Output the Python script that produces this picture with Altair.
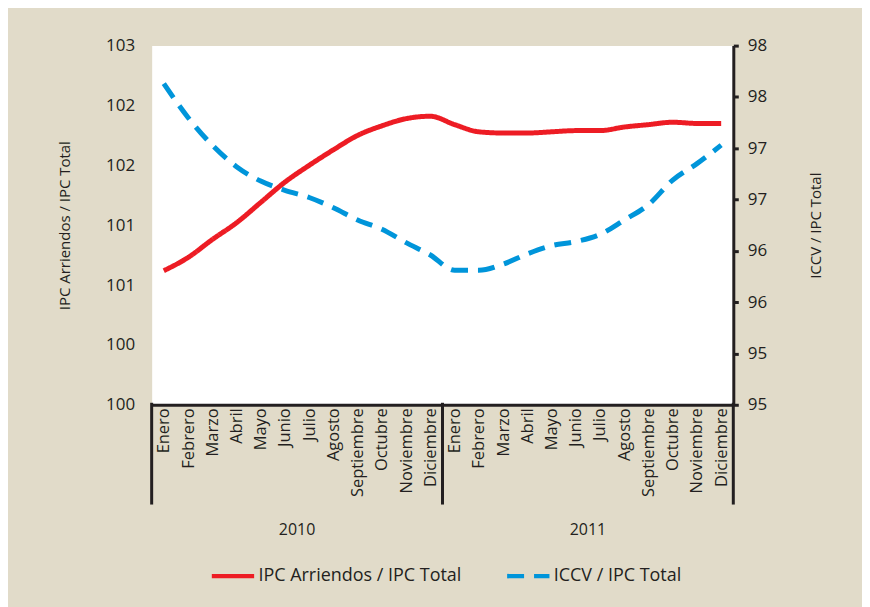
import altair as alt
import pandas as pd

meses = ["Enero", "Febrero", "Marzo", "Abril", "Mayo", "Junio", "Julio", "Agosto",
         "Septiembre", "Octubre", "Noviembre", "Diciembre"]
categorias = meses + meses
anios = ["2010", "2011"]

ipc_arriendos = [100.87, 100.98, 101.13, 101.27, 101.44, 101.61, 101.75, 101.88,
                 102.00, 102.08, 102.14, 102.16, 102.09, 102.03, 102.02, 102.02,
                 102.03, 102.04, 102.04, 102.07, 102.09, 102.11, 102.10, 102.10]
iccv = [97.88, 97.55, 97.28, 97.07, 96.93, 96.84, 96.77, 96.67, 96.55, 96.46, 96.33, 96.21,
        96.06, 96.06, 96.12, 96.22, 96.30, 96.34, 96.41, 96.55, 96.70, 96.94, 97.10, 97.28]

s1 = "IPC Arriendos / IPC Total"
s2 = "ICCV / IPC Total"

df1 = pd.DataFrame({"idx": list(range(24)), "mes": categorias, "v": ipc_arriendos, "serie": s1})
df2 = pd.DataFrame({"idx": list(range(24)), "mes": categorias, "v": iccv, "serie": s2})
sep = pd.DataFrame({"x": [-0.5, 11.5, 23.5]})
yrs = pd.DataFrame({"x": [5.5, 17.5], "t": anios})

FONT = "Open Sans"
TXT = "#231F20"

label_arr = "[" + ",".join("'%s'" % m for m in categorias) + "]"
xscale = alt.Scale(domain=[-0.5, 23.5], nice=False, zero=False)
xaxis = alt.Axis(values=list(range(24)), labelExpr=label_arr + "[datum.value]",
                 labelAngle=270, labelFontSize=16.5, labelFont=FONT, labelColor=TXT,
                 labelOverlap=False, labelBound=False, labelFlush=False,
                 labelPadding=3, tickSize=0, grid=False, domainColor="#231F20",
                 domainWidth=3, title=None)

color = alt.Color("serie:N", scale=alt.Scale(domain=[s1, s2], range=["#ED1C24", "#0095DA"]),
                  legend=alt.Legend(title=None, orient="none", legendX=58, legendY=508,
                                    direction="horizontal", symbolType="stroke",
                                    symbolStrokeWidth=4.5, symbolSize=1800,
                                    labelFontSize=18, labelFont=FONT, labelColor=TXT,
                                    labelLimit=400, columnPadding=36, labelOffset=2))
dash = alt.StrokeDash("serie:N", scale=alt.Scale(domain=[s1, s2], range=[[1, 0], [17, 10]]),
                      legend=None)

left_vals = [99.75 + 0.5 * i for i in range(7)]
right_vals = [94.75 + 0.5 * i for i in range(8)]

line1 = alt.Chart(df1).mark_line(strokeWidth=5, interpolate="monotone").encode(
    x=alt.X("idx:Q", scale=xscale, axis=xaxis),
    y=alt.Y("v:Q", scale=alt.Scale(domain=[99.75, 102.75], nice=False, zero=False),
            axis=alt.Axis(orient="left", values=left_vals, labelExpr="round(datum.value)",
                          domain=False, ticks=False, grid=False, labelPadding=17,
                          labelFontSize=17, labelFont=FONT, labelColor=TXT,
                          title=s1, titleFont=FONT, titleFontSize=15, titleFontWeight="normal",
                          titleColor=TXT, titlePadding=33)),
    color=color, strokeDash=dash,
)

line2 = alt.Chart(df2).mark_line(strokeWidth=5, interpolate="monotone").encode(
    x=alt.X("idx:Q", scale=xscale, axis=xaxis),
    y=alt.Y("v:Q", scale=alt.Scale(domain=[94.75, 98.25], nice=False, zero=False),
            axis=alt.Axis(orient="right", values=right_vals, labelExpr="round(datum.value)",
                          domain=True, domainColor="#231F20", domainWidth=3,
                          ticks=True, tickSize=5, tickWidth=3, tickColor="#231F20",
                          grid=False, labelPadding=9,
                          labelFontSize=17, labelFont=FONT, labelColor=TXT,
                          title=s2, titleFont=FONT, titleFontSize=15, titleFontWeight="normal",
                          titleColor=TXT, titleAngle=270, titlePadding=57)),
    color=color, strokeDash=dash,
)

rules = alt.Chart(sep).mark_rule(color="#231F20", strokeWidth=3).encode(
    x=alt.X("x:Q", scale=xscale, axis=xaxis), y=alt.value(358), y2=alt.value(460)
)

years = alt.Chart(yrs).mark_text(font=FONT, fontSize=16, color=TXT, baseline="middle").encode(
    x=alt.X("x:Q", scale=xscale, axis=xaxis), y=alt.value(486), text="t:N"
)

chart = alt.layer(line1, line2, rules, years).resolve_scale(
    y="independent"
).properties(
    width=583, height=360,
    autosize=alt.AutoSizeParams(type="none"),
    padding={"left": 144, "top": 37, "right": 129, "bottom": 203},
    background="#E1DBC9",
).configure_view(fill="white", stroke="transparent")

chart.save("out.html", embed_options={"renderer": "svg", "actions": False})
